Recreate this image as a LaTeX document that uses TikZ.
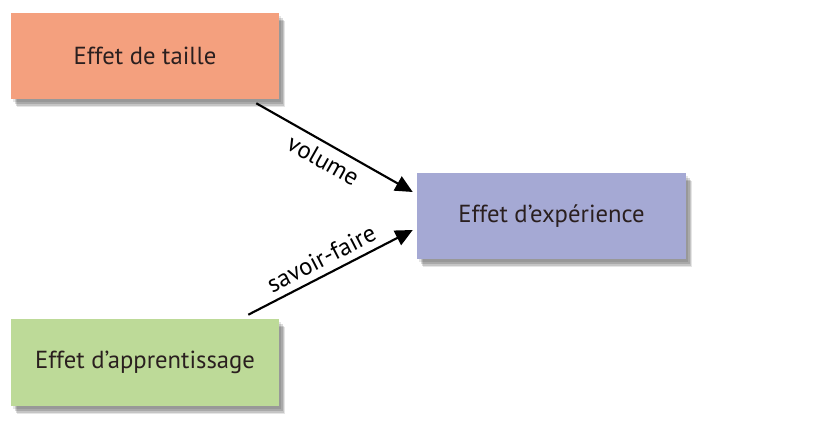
\documentclass[tikz,border=0pt]{standalone}
\usepackage{fontspec}
\setmainfont{PT Sans}
\usetikzlibrary{arrows.meta,calc}
\definecolor{salmon}{HTML}{F4A07E}
\definecolor{lavender}{HTML}{A5A9D4}
\definecolor{lightgreen}{HTML}{BDDA98}
\definecolor{inkc}{HTML}{2A1F1F}
\tikzset{
  shadowbox/.style={
    preaction={fill=black, fill opacity=0.10, transform canvas={xshift=1.5pt,yshift=-2.5pt}},
    preaction={fill=black, fill opacity=0.14, transform canvas={xshift=2.8pt,yshift=-3.8pt}},
    preaction={fill=black, fill opacity=0.14, transform canvas={xshift=3.8pt,yshift=-5.0pt}},
    preaction={fill=black, fill opacity=0.10, transform canvas={xshift=4.8pt,yshift=-6.2pt}},
    rectangle, inner sep=0pt, text=inkc, font=\fontsize{18.5}{22}\selectfont
  },
  conn/.style={line width=1.6pt, -{Triangle[length=13pt,width=12pt]}},
  lbl/.style={sloped, text=black, font=\fontsize{18.5}{22}\selectfont, inner sep=0pt}
}
\begin{document}
\begin{tikzpicture}[x=0.75pt,y=-0.75pt]
\useasboundingbox (0,0) rectangle (824,448);
\node[shadowbox, fill=salmon, minimum width=201pt, minimum height=64.5pt] (taille) at (145,56) {Effet de taille};
\node[shadowbox, fill=lavender, minimum width=201.75pt, minimum height=64.5pt] (exp) at (551.5,216) {Effet d’expérience};
\node[shadowbox, fill=lightgreen, minimum width=201pt, minimum height=65.25pt] (appr) at (145,362.5) {Effet d’apprentissage};
\coordinate (s1) at ($(taille.south east)+(-23,4)$);
\coordinate (e1) at ($(exp.west)+(-4,-24)$);
\coordinate (s2) at ($(appr.north east)+(-31,-4)$);
\coordinate (e2) at ($(exp.west)+(-4,14)$);
\draw[conn] (s1) -- node[lbl, pos=0.48, below=5pt] {volume} (e1);
\draw[conn] (s2) -- node[lbl, pos=0.49, above=5pt] {savoir-faire} (e2);
\end{tikzpicture}
\end{document}
